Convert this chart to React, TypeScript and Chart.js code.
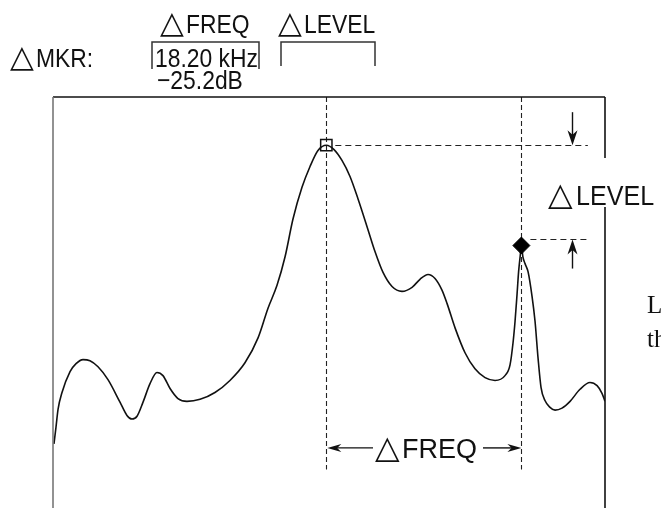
import React, { useEffect, useRef } from "react";
import { Chart, registerables } from "chart.js";

Chart.register(...registerables);

// ---- data (frequency in kHz, level in dB) ----
const traceFreqKHz = [
  0.09, 0.28, 0.47, 0.84, 1.59, 2.15, 2.8, 3.45, 4.2, 5.13, 6.25, 6.9, 7.37, 7.84, 8.4, 9.05, 9.7,
  10.26, 10.92, 11.66, 12.5, 13.72, 15.11, 16.51, 17.91, 19.13, 20.06, 20.9, 21.65, 22.39, 23.23,
  23.98, 24.72, 25.5, 26.22, 26.96, 27.71, 28.46, 29.3, 30.04, 30.79, 31.63, 32.56, 33.5, 34.24,
  34.99, 35.64, 36.29, 36.76, 37.51, 38.44, 39.37, 40.31, 41.24, 42.17, 42.64, 42.92, 43.11, 43.3,
  43.44, 43.58, 43.7, 43.84, 44.04, 44.32, 44.69, 44.97, 45.25, 45.53, 45.9, 46.37, 46.84, 47.49,
  48.24, 49.17, 50.1, 50.76, 51.22, 51.5,
];
const traceLevelDb = [
  -86.4, -82.2, -77.8, -73.6, -68.4, -66.4, -65.4, -65.7, -67.2, -70.4, -76.0, -79.3, -80.2, -79.5,
  -76.0, -71.4, -68.6, -69.4, -72.6, -75.1, -75.8, -75.3, -73.6, -70.6, -66.2, -60.0, -52.6, -46.9,
  -39.8, -30.4, -22.5, -17.3, -13.3, -12.0, -13.1, -15.8, -19.8, -25.4, -32.3, -38.5, -43.7, -47.2,
  -48.4, -47.4, -45.4, -44.2, -45.2, -48.1, -51.4, -57.5, -63.7, -67.7, -69.9, -70.6, -69.4, -66.7,
  -61.2, -55.8, -48.9, -43.5, -39.8, -37.0, -39.8, -41.5, -43.5, -49.6, -55.8, -64.9, -72.3, -75.6,
  -77.3, -78.0, -77.5, -75.8, -72.8, -71.1, -71.9, -73.8, -75.8,
];
const markerFreqKHz = [25.5, 43.7];
const markerLevelDb = [-12.0, -37.0];

// ---- texts ----
const headerLabels = ["FREQ", "LEVEL"];
const mkrLabel = "MKR:";
const readoutFreq = "18.20 kHz";
const readoutLevel = "−25.2dB";
const deltaLevelLabel = "LEVEL";
const deltaFreqLabel = "FREQ";
const sideText = ["L", "th"];
const DELTA = "△";

// ---- axis ranges ----
const X_MIN = 0;
const X_MAX = 51.5;
const Y_MIN = -100;
const Y_MAX = 0;
const DASH_BOTTOM_DB = -92.8;
const REF_END_KHZ = 49.9;
const ARROW_KHZ = 48.4;
const FREQ_ARROW_DB = -87.4;

const SANS = '"Liberation Sans", Arial, sans-serif';

function drawDelta(ctx: CanvasRenderingContext2D, word: string, x: number, base: number, size: number, sx: number, triSize: number, gap: number) {
  ctx.save();
  ctx.fillStyle = "#111";
  ctx.textBaseline = "alphabetic";
  ctx.font = `${triSize}px "DejaVu Sans", sans-serif`;
  ctx.fillText(DELTA, x, base);
  ctx.translate(x + gap, base);
  ctx.scale(sx, 1);
  ctx.font = `${size}px ${SANS}`;
  ctx.fillText(word, 0, 0);
  ctx.restore();
}

function drawText(ctx: CanvasRenderingContext2D, t: string, x: number, base: number, size: number, sx: number, family = SANS) {
  ctx.save();
  ctx.fillStyle = "#111";
  ctx.textBaseline = "alphabetic";
  ctx.translate(x, base);
  ctx.scale(sx, 1);
  ctx.font = `${size}px ${family}`;
  ctx.fillText(t, 0, 0);
  ctx.restore();
}

function line(ctx: CanvasRenderingContext2D, x1: number, y1: number, x2: number, y2: number) {
  ctx.beginPath();
  ctx.moveTo(x1, y1);
  ctx.lineTo(x2, y2);
  ctx.stroke();
}

function arrow(ctx: CanvasRenderingContext2D, x1: number, y1: number, x2: number, y2: number, head = 13, hw = 4.5) {
  const ang = Math.atan2(y2 - y1, x2 - x1);
  ctx.save();
  ctx.strokeStyle = "#111";
  ctx.fillStyle = "#111";
  ctx.lineWidth = 1.4;
  ctx.setLineDash([]);
  line(ctx, x1, y1, x2 - Math.cos(ang) * head * 0.6, y2 - Math.sin(ang) * head * 0.6);
  const bx = x2 - Math.cos(ang) * head;
  const by = y2 - Math.sin(ang) * head;
  const nx = -Math.sin(ang) * hw;
  const ny = Math.cos(ang) * hw;
  const mx = x2 - Math.cos(ang) * head * 0.7;
  const my = y2 - Math.sin(ang) * head * 0.7;
  ctx.beginPath();
  ctx.moveTo(x2, y2);
  ctx.lineTo(bx + nx, by + ny);
  ctx.lineTo(mx, my);
  ctx.lineTo(bx - nx, by - ny);
  ctx.closePath();
  ctx.fill();
  ctx.restore();
}

const annotations = {
  id: "annotations",
  beforeDatasetsDraw(chart: any) {
    const { ctx, chartArea: a, scales } = chart;
    const xs = scales.x;
    const ys = scales.y;
    ctx.save();
    ctx.strokeStyle = "#222";
    ctx.lineWidth = 1.1;
    ctx.setLineDash([5, 3]);
    const bottom = ys.getPixelForValue(DASH_BOTTOM_DB);
    markerFreqKHz.forEach((f) => {
      const px = Math.round(xs.getPixelForValue(f)) + 0.5;
      line(ctx, px, a.top, px, bottom);
    });
    ctx.setLineDash([6, 4]);
    const xEnd = xs.getPixelForValue(REF_END_KHZ);
    const x1 = xs.getPixelForValue(markerFreqKHz[0]);
    const y1 = Math.round(ys.getPixelForValue(markerLevelDb[0])) + 0.5;
    line(ctx, x1 + 9, y1, xEnd, y1);
    const x2 = xs.getPixelForValue(markerFreqKHz[1]);
    const y2 = Math.round(ys.getPixelForValue(markerLevelDb[1])) - 7 + 0.5;
    line(ctx, x2 + 9, y2, xEnd, y2);
    ctx.restore();
  },
  afterDraw(chart: any) {
    const { ctx, chartArea: a, scales } = chart;
    const xs = scales.x;
    const ys = scales.y;
    const H = chart.height;
    ctx.save();
    // frame (open at bottom)
    ctx.setLineDash([]);
    ctx.lineWidth = 1.6;
    ctx.strokeStyle = "#111";
    line(ctx, a.left, a.top, a.right, a.top);
    line(ctx, a.right, a.top, a.right, H);
    ctx.strokeStyle = "#777";
    line(ctx, a.left, a.top, a.left, H);

    // level arrows
    const ax = Math.round(xs.getPixelForValue(ARROW_KHZ)) + 0.5;
    const yTop = ys.getPixelForValue(markerLevelDb[0]);
    const yLow = ys.getPixelForValue(markerLevelDb[1]) - 7;
    arrow(ctx, ax, yTop - 33, ax, yTop, 15, 5);
    arrow(ctx, ax, yLow + 30, ax, yLow + 1, 15, 5);

    // freq arrows
    const fy = ys.getPixelForValue(FREQ_ARROW_DB);
    const fx1 = xs.getPixelForValue(markerFreqKHz[0]) + 1;
    const fx2 = xs.getPixelForValue(markerFreqKHz[1]);
    arrow(ctx, 373, fy, fx1, fy, 14, 4);
    arrow(ctx, 483, fy, fx2, fy, 14, 4);
    drawDelta(ctx, deltaFreqLabel, 375, fy + 10, 27, 1.0, 32, 27);

    // LEVEL label with white background covering the frame
    ctx.fillStyle = "#fff";
    ctx.fillRect(545, 158, 116, 49);
    drawDelta(ctx, deltaLevelLabel, 548, 205, 27, 0.93, 32, 28);

    // header
    drawDelta(ctx, headerLabels[0], 160, 33, 26, 0.88, 31, 26);
    drawDelta(ctx, headerLabels[1], 278, 33, 26, 0.88, 31, 26);
    drawDelta(ctx, mkrLabel, 10, 67, 26, 0.88, 31, 26);
    drawText(ctx, readoutFreq, 155, 67, 26, 0.88);
    drawText(ctx, readoutLevel, 157, 89, 26, 0.88);

    ctx.strokeStyle = "#333";
    ctx.lineWidth = 1.5;
    ctx.beginPath();
    ctx.moveTo(152, 69);
    ctx.lineTo(152, 42);
    ctx.lineTo(259, 42);
    ctx.lineTo(259, 69);
    ctx.stroke();
    ctx.beginPath();
    ctx.moveTo(281, 66);
    ctx.lineTo(281, 42);
    ctx.lineTo(375, 42);
    ctx.lineTo(375, 66);
    ctx.stroke();

    // cut-off body text at the right edge
    drawText(ctx, sideText[0], 647, 313, 25, 1, '"Liberation Serif", serif');
    drawText(ctx, sideText[1], 647, 347, 25, 1, '"Liberation Serif", serif');
    ctx.restore();
  },
};

export default function App() {
  const ref = useRef<HTMLCanvasElement | null>(null);
  useEffect(() => {
    if (!ref.current) return;
    const chart = new Chart(ref.current, {
      type: "line",
      data: {
        datasets: [
          {
            label: "trace",
            data: traceFreqKHz.map((f, i) => ({ x: f, y: traceLevelDb[i] })),
            borderColor: "#111",
            borderWidth: 1.6,
            pointRadius: 0,
            cubicInterpolationMode: "monotone",
            fill: false,
            order: 2,
          },
          {
            label: "marker",
            data: [{ x: markerFreqKHz[0], y: markerLevelDb[0] }],
            showLine: false,
            pointStyle: "rect",
            pointRadius: 8,
            pointBackgroundColor: "rgba(255,255,255,0)",
            pointBorderColor: "#111",
            pointBorderWidth: 1.5,
            clip: false,
            order: 1,
          },
          {
            label: "delta marker",
            data: [{ x: markerFreqKHz[1], y: markerLevelDb[1] }],
            showLine: false,
            pointStyle: "rectRot",
            pointRadius: 8.5,
            pointBackgroundColor: "#000",
            pointBorderColor: "#000",
            pointBorderWidth: 1,
            clip: false,
            order: 0,
          },
        ],
      },
      options: {
        responsive: false,
        animation: false,
        events: [],
        layout: { padding: { left: 53, right: 56, top: 97, bottom: 6 } },
        plugins: {
          legend: { display: false },
          tooltip: { enabled: false },
          title: { display: false },
        },
        scales: {
          x: { type: "linear", min: X_MIN, max: X_MAX, display: false },
          y: { type: "linear", min: Y_MIN, max: Y_MAX, display: false },
        },
      },
      plugins: [annotations],
    } as any);
    return () => chart.destroy();
  }, []);
  return (
    <div style={{ position: "fixed", left: 0, top: 0, width: 661, height: 508, background: "#fff" }}>
      <canvas ref={ref} width={661} height={508} style={{ display: "block" }} />
    </div>
  );
}
